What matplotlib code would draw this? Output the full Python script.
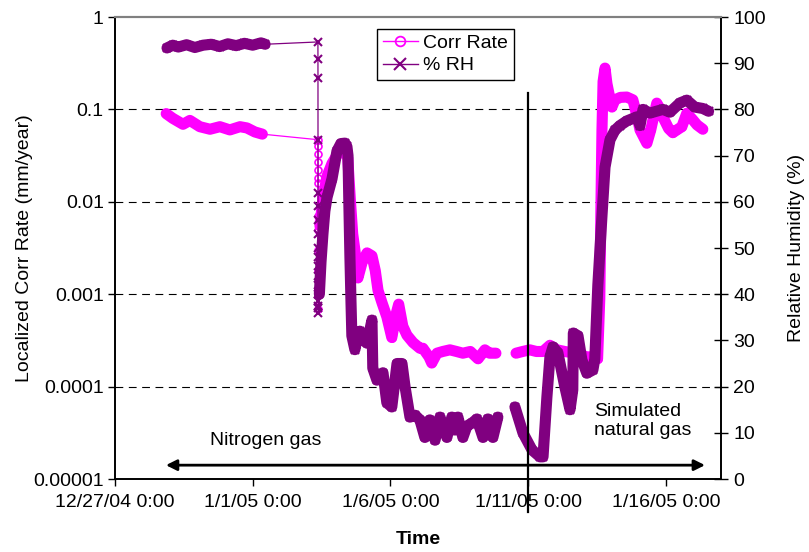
import numpy as np
import matplotlib
matplotlib.use("Agg")
import matplotlib.pyplot as plt
from matplotlib.lines import Line2D

plt.rcParams["font.family"] = ["Liberation Sans", "DejaVu Sans"]

# time is in days after 12/27/04 0:00
# localized corrosion rate, mm/year (nan = no reading)
corr_day = [1.86, 2.10, 2.47, 2.72, 3.08, 3.45, 3.81, 4.17, 4.54, 4.79, 5.08, 5.35,
            7.44, 7.55, 7.70, 7.88, 8.06, 8.20, 8.35, 8.45, 8.55, 8.63, 8.71, 8.82,
            8.97, 9.15, 9.33, 9.45, 9.55, 9.70, 9.87, 10.05, 10.20, 10.30, 10.45,
            10.60, 10.82, 11.07, 11.18, 11.40, 11.50, 11.69, 11.90, 12.16, 12.40,
            12.63, 12.90, 13.18, 13.43, 13.60, 13.83, 14.20,
            14.56, 14.80, 15.06, 15.30, 15.54, 15.79, 16.05, 16.33, 16.70, 17.13,
            17.40, 17.52, 17.60, 17.64, 17.68, 17.72, 17.79, 17.86, 17.95, 18.04,
            18.15, 18.35, 18.58, 18.80, 18.95, 19.06, 19.31, 19.45, 19.53, 19.67,
            19.80, 19.89, 20.10, 20.25, 20.40, 20.58, 20.76, 20.98, 21.13, 21.34]
corr_rate = [0.090, 0.080, 0.069, 0.076, 0.065, 0.061, 0.065, 0.060, 0.065, 0.063, 0.057, 0.054,
             0.0055, 0.011, 0.019, 0.026, 0.032, 0.036, 0.035, 0.030, 0.010, 0.0045, 0.0030, 0.0015,
             0.0022, 0.0028, 0.0026, 0.0018, 0.0011, 0.0008, 0.00057, 0.00034, 0.0006, 0.00078, 0.00045,
             0.00036, 0.00030, 0.00026, 0.00026, 0.00021, 0.00018, 0.00023, 0.00024, 0.00025, 0.00024,
             0.00023, 0.00024, 0.00020, 0.00025, 0.00023, 0.00023, np.nan,
             0.00023, 0.00024, 0.00025, 0.00024, 0.00024, 0.00028, 0.00025, 0.00024, 0.00023, 0.00021,
             0.00021, 0.00020, 0.0009, 0.008, 0.06, 0.20, 0.28, 0.19, 0.14, 0.106,
             0.127, 0.135, 0.136, 0.127, 0.085, 0.060, 0.043, 0.060, 0.077, 0.117,
             0.100, 0.083, 0.062, 0.056, 0.060, 0.065, 0.091, 0.077, 0.068, 0.061]

# sparse readings while the probe dried out on 1/3
corr_drop_day = [7.368, 7.369, 7.370, 7.371, 7.372, 7.373, 7.374, 7.375, 7.376, 7.377,
                 7.378, 7.379, 7.380]
corr_drop_rate = [0.047, 0.040, 0.033, 0.027, 0.022, 0.018, 0.016, 0.007, 0.005, 0.003,
                  0.0018, 0.0011, 0.0007]

# relative humidity, %
rh_day = [1.89, 2.10, 2.30, 2.60, 2.90, 3.20, 3.50, 3.80, 4.10, 4.40, 4.70, 5.00, 5.30, 5.45,
          7.42, 7.48, 7.55, 7.62, 7.70, 7.88, 8.06, 8.20, 8.35, 8.42, 8.46, 8.49, 8.53, 8.57,
          8.60, 8.71, 8.78, 8.89, 9.04, 9.15, 9.33, 9.36, 9.51, 9.73, 9.87, 10.05, 10.24,
          10.42, 10.53, 10.71, 10.90, 11.07, 11.25, 11.43, 11.62, 11.80, 12.05, 12.23, 12.34,
          12.45, 12.63, 12.78, 12.96, 13.14, 13.36, 13.54, 13.72, 13.90, 14.20,
          14.52, 14.81, 15.14, 15.43, 15.54, 15.68, 15.79, 15.90, 16.08, 16.33, 16.52, 16.62,
          16.64, 16.81, 16.95, 17.13, 17.35, 17.42, 17.53, 17.68, 17.79, 17.97, 18.15, 18.33,
          18.58, 18.95, 19.06, 19.17, 19.42, 19.89, 20.15, 20.51, 20.76, 21.05, 21.34, 21.55]
rh = [93.3, 93.9, 93.5, 94.0, 93.4, 93.9, 94.1, 93.6, 94.2, 93.8, 94.3, 93.9, 94.4, 94.1,
      40, 47, 53, 58, 61, 65, 71, 72.6, 72.7, 72.0, 70, 60, 48, 38,
      31, 28, 30, 32, 30, 29.4, 34.4, 24, 21.4, 23, 16.5, 15.6, 25,
      25, 20, 13.4, 13.8, 12.8, 9, 12.8, 8.4, 13.4, 9, 13.4, 10.6,
      13.4, 9, 11.5, 12.1, 13, 9, 13, 9, 13.4, np.nan,
      15.6, 10, 6.3, 4.8, 4.8, 17.7, 26.4, 28.6, 27.3, 20, 15, 19.3,
      31.6, 31, 25.8, 22.9, 23.6, 26, 42, 57, 67.5, 73.4, 75.5, 76.5,
      77.5, 78.4, 76.5, 80, 79.2, 80, 79.4, 81.4, 82, 80.5, 80.2, 79.6]

rh_drop_day = [7.368, 7.369, 7.370, 7.371, 7.372, 7.373, 7.374, 7.375, 7.376, 7.377,
               7.378, 7.379, 7.380, 7.381, 7.382, 7.383, 7.384, 7.385]
rh_drop = [94.6, 91.0, 86.8, 73.4, 62, 59, 56, 53, 50, 48, 46, 44, 42, 40, 38.5, 37, 36, 37.5]

x_ticks = [0, 5, 10, 15, 20]
x_tick_labels = ["12/27/04 0:00", "1/1/05 0:00", "1/6/05 0:00", "1/11/05 0:00", "1/16/05 0:00"]
corr_ticks = [1e-5, 1e-4, 1e-3, 1e-2, 1e-1, 1]
corr_tick_labels = ["0.00001", "0.0001", "0.001", "0.01", "0.1", "1"]
rh_ticks = list(range(0, 101, 10))

gas_switch_day = 15      # 1/11/05, nitrogen -> simulated natural gas
arrow_start, arrow_end, arrow_rh = 1.85, 21.42, 3.0

PINK = "#FF00FF"
PURPLE = "#800080"


def segments(day, val, max_gap=0.5):
    """split a series where readings are more than max_gap days apart"""
    day = np.asarray(day, float)
    val = np.asarray(val, float)
    cuts = np.where(np.diff(day) > max_gap)[0] + 1
    return zip(np.split(day, cuts), np.split(val, cuts))


def merged(day, val, day2, val2):
    d = np.concatenate([day, day2])
    v = np.concatenate([val, val2])
    order = np.argsort(d, kind="stable")
    return d[order], v[order]


fig = plt.figure(figsize=(8.09, 5.52), dpi=100)
ax = fig.add_axes([0.1421, 0.1322, 0.7491, 0.837])
ax2 = ax.twinx()

# corrosion rate: dense logging shows as a thick band
for d, v in segments(corr_day, corr_rate):
    ax.plot(d, v, color=PINK, lw=8, solid_capstyle="round", solid_joinstyle="round", zorder=2)
d, v = merged(corr_day, corr_rate, corr_drop_day, corr_drop_rate)
ax.plot(d, v, color=PINK, lw=0.9, marker="o", ms=5, mfc="none", mec=PINK, mew=1.2, zorder=3)

for d, v in segments(rh_day, rh):
    ax2.plot(d, v, color=PURPLE, lw=8, solid_capstyle="round", solid_joinstyle="round", zorder=2)
d, v = merged(rh_day, rh, rh_drop_day, rh_drop)
ax2.plot(d, v, color=PURPLE, lw=0.9, marker="x", ms=6, mec=PURPLE, mew=1.5, zorder=3)

ax.set_yscale("log")
ax.set_ylim(1e-5, 1)
ax.set_xlim(0, 22)
ax2.set_ylim(0, 100)

ax.yaxis.set_major_locator(matplotlib.ticker.FixedLocator(corr_ticks))
ax.yaxis.set_minor_locator(matplotlib.ticker.NullLocator())
ax.set_yticklabels(corr_tick_labels)
ax.set_xticks(x_ticks)
ax.set_xticklabels(x_tick_labels)
ax2.set_yticks(rh_ticks)

for v in corr_ticks[1:-1]:
    ax.axhline(v, color="black", lw=0.8, linestyle=(0, (7, 5)), zorder=1)

ax.tick_params(axis="y", direction="out", length=5, width=1, pad=3, labelsize=14)
ax.tick_params(axis="x", direction="out", length=5, width=1, pad=6, labelsize=14)
ax2.tick_params(axis="y", direction="inout", length=10, width=1, pad=4, labelsize=14)

for a in (ax, ax2):
    for side in ("left", "right", "bottom"):
        a.spines[side].set_color("black")
        a.spines[side].set_linewidth(1.2)
    a.spines["top"].set_color("#808080")
    a.spines["top"].set_linewidth(1.5)

ax.set_xlabel("Time", fontsize=14, fontweight="bold")
ax.xaxis.set_label_coords(0.5, -0.112)
ax.set_ylabel("Localized Corr Rate (mm/year)", fontsize=14)
ax.yaxis.set_label_coords(-0.135, 0.5)
ax2.set_ylabel("Relative Humidity (%)", fontsize=14, rotation=90)
ax2.yaxis.set_label_coords(1.110, 0.5)

# gas switch marker and the two test periods
ax2.axvline(gas_switch_day, ymin=-0.071, ymax=0.835, color="black", lw=1.6, clip_on=False, zorder=5)
ax2.annotate("", xy=(arrow_end, arrow_rh), xytext=(arrow_start, arrow_rh),
             arrowprops=dict(arrowstyle="<|-|>", color="black", lw=2, mutation_scale=16,
                             shrinkA=0, shrinkB=0), zorder=5)
ax2.text(3.45, 8.4, "Nitrogen gas", fontsize=14, ha="left", va="center", zorder=6)
ax2.text(17.39, 12.5, "Simulated\nnatural gas", fontsize=14, ha="left", va="center",
         linespacing=1.15, zorder=6)

handles = [Line2D([], [], color=PINK, lw=1, marker="o", ms=7, mfc="none", mew=1.3),
           Line2D([], [], color=PURPLE, lw=1, marker="x", ms=8, mew=1.5)]
leg = ax2.legend(handles, ["Corr Rate", "% RH"], loc="upper left", bbox_to_anchor=(0.432, 0.975),
                 fancybox=False, edgecolor="black", framealpha=1, fontsize=14,
                 handlelength=1.8, handletextpad=0.3, borderpad=0.3, labelspacing=0.25,
                 borderaxespad=0)
leg.get_frame().set_linewidth(1)
leg.set_zorder(10)

fig.savefig("out.png", dpi=100)
